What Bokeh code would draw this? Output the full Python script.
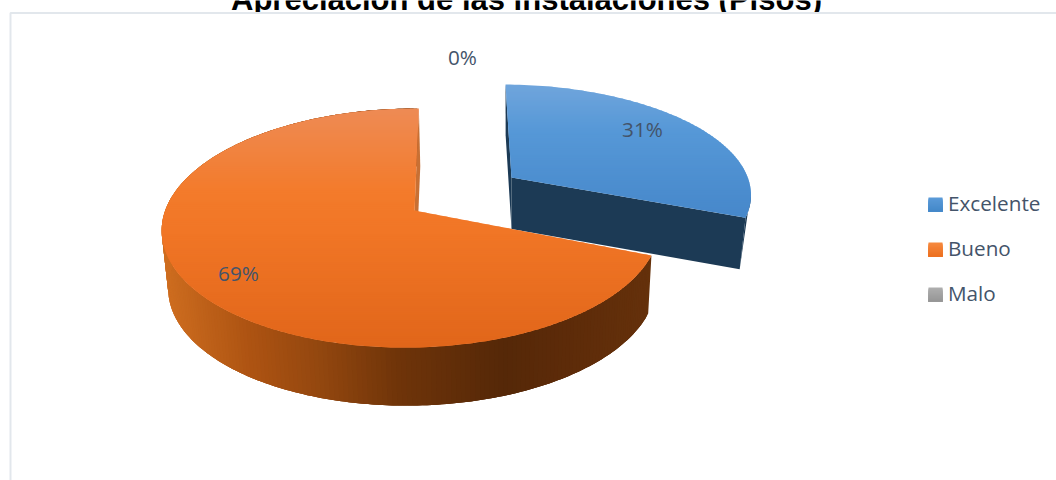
import numpy as np
from bokeh.core.properties import value
from bokeh.embed import file_html
from bokeh.models import Range1d
from bokeh.plotting import figure
from bokeh.resources import INLINE

# Chart content
title = "Apreciación de las instalaciones (Pisos)"
categories = ["Excelente", "Bueno", "Malo"]
percents = [31, 69, 0]

INK = "#44546a"
FONT = value("Open Sans")
LABEL_SIZE = "20.7px"
shares = np.array(percents, dtype=float) / sum(percents)
sweep_end = 360.0 * np.cumsum(shares)


class Wedge3D:
    """Perspective view of a pie wedge; angles run clockwise from twelve o'clock."""

    def __init__(self, ax, ay, a, b, p, q, s, depth, shrink, drift=0.0):
        self.ax, self.ay, self.a, self.b = ax, ay, a, b
        self.p, self.q, self.s = p, q, s
        self.depth, self.shrink, self.drift = depth, shrink, drift

    def top(self, deg):
        t = np.radians(np.asarray(deg, dtype=float))
        u, v = np.sin(t), np.cos(t)
        w = 1 + self.p * v + self.q * u
        return self.ax + (self.a * u + self.s * v) / w, self.ay - self.b * v / w

    def bottom(self, deg):
        x, y = self.top(deg)
        return self.ax + self.drift + (x - self.ax) * self.shrink, y + self.depth

    def apex_low(self):
        return self.ax + self.drift, self.ay + self.depth


def clip_half(pts, y_cut, keep_below):
    out = []
    for i, (x0, y0) in enumerate(pts):
        x1, y1 = pts[(i + 1) % len(pts)]
        in0 = (y0 >= y_cut) == keep_below
        in1 = (y1 >= y_cut) == keep_below
        if in0:
            out.append((x0, y0))
        if in0 != in1:
            f = (y_cut - y0) / (y1 - y0)
            out.append((x0 + f * (x1 - x0), y_cut))
    return out


def hex_mix(y, stops):
    ys, cols = zip(*stops)
    rgb = [np.interp(y, ys, [int(c[i:i + 2], 16) for c in cols]) for i in (1, 3, 5)]
    return "#%02x%02x%02x" % tuple(int(round(c)) for c in rgb)


def shaded_face(poly, stops, step=2.0):
    """Cut a polygon into horizontal bands that follow a vertical colour ramp."""
    ys = [pt[1] for pt in poly]
    xs_out, ys_out, cols = [], [], []
    for y0 in np.arange(min(ys), max(ys), step):
        band = clip_half(clip_half(poly, y0, True), y0 + step + 1, False)
        if len(band) >= 3:
            xs_out.append([pt[0] for pt in band])
            ys_out.append([pt[1] for pt in band])
            cols.append(hex_mix(y0 + step / 2, stops))
    return xs_out, ys_out, cols


p = figure(width=1056, height=480, output_backend="svg", toolbar_location=None,
           x_range=Range1d(0, 1056), y_range=Range1d(480, 0), min_border=0,
           outline_line_color=None, background_fill_color="white",
           border_fill_color="white")
p.axis.visible = False
p.grid.visible = False

# Title, running off the top edge of the page and ending at the frame
p.text([526], [8.5], text=[title], text_font=value("Liberation Sans"),
       text_font_style="bold", text_font_size="31px", text_color="#000000",
       text_align="center", text_baseline="alphabetic", y_offset=-9.5)
p.quad(left=0, right=1056, top=12, bottom=24, fill_color="white", line_color=None)

# Chart frame
p.line([10, 10, 1056], [480, 12.5, 12.5], line_color="#e2e7ec", line_width=2)

blue = Wedge3D(511, 177, 241, 105.7, 0.137, 0.02, -6.8, 51.5, 0.975)
orange = Wedge3D(414, 210, 246.1, 117, 0.1465, 0.0128, 5.0, 58, 0.98, drift=1.5)

# Blue wedge, pulled away from the pie
b_end = sweep_end[0]
thetas = np.linspace(0, b_end, 90)
lx, ly = blue.apex_low()
x0, y0 = blue.top(0)
x0l, y0l = blue.bottom(0)
xe, ye = blue.top(b_end)
xel, yel = blue.bottom(b_end)
p.patch([x0, x0l, lx, blue.ax], [y0, y0l, ly, blue.ay], fill_color="#1c3a55", line_color=None)
p.patch([blue.ax, lx, xel, xe], [blue.ay, ly, yel, ye], fill_color="#1c3a55", line_color=None)
rim = np.linspace(b_end - 14, b_end, 10)
rx, ry = blue.top(rim)
p.patch(list(rx) + [xel], list(ry) + [yel], fill_color="#1c3a55", line_color=None)
bx, by = blue.top(thetas)
blue_poly = [(blue.ax, blue.ay)] + list(zip(bx, by))
xs, ys, cols = shaded_face(blue_poly, [(84, "#70a5dc"), (130, "#5698d7"), (218, "#4687ca")])
p.patches(xs, ys, fill_color=cols, line_color=None)

# Orange wedge: outer wall first, shaded around the rim; strips overlap so no seams show
o_start, o_end = sweep_end[0], sweep_end[1]
wall_stops = [(160, "#cf6e20"), (250, "#ad5312"), (320, "#93470f"), (400, "#6f3409"),
              (505, "#552808"), (570, "#5d2b09"), (655, "#65310b")]
edges = np.arange(o_start, o_end + 0.01, 1.0)
tx, ty = orange.top(edges)
lo_x, lo_y = orange.bottom(edges)
wall_xs, wall_ys, wall_cols = [], [], []
for i in range(len(edges) - 3):
    idx = list(range(i, i + 4))
    wall_xs.append([tx[j] for j in idx] + [lo_x[j] for j in idx[::-1]])
    wall_ys.append([ty[j] for j in idx] + [lo_y[j] for j in idx[::-1]])
    wall_cols.append(hex_mix(tx[i], wall_stops))
p.patches(wall_xs, wall_ys, fill_color=wall_cols, line_color=None)

# Cut face that shows along the back edge
cx, cy = orange.top(o_end)
clx, cly = orange.bottom(o_end)
alx, aly = orange.apex_low()
p.patch([cx, clx, alx, orange.ax], [cy, cly, aly, orange.ay],
        fill_color="#c87034", line_color=None)

arc = np.linspace(o_start, o_end, 260)
ax_, ay_ = orange.top(arc)
orange_poly = [(orange.ax, orange.ay)] + list(zip(ax_, ay_))
xs, ys, cols = shaded_face(orange_poly, [(107, "#ee8b55"), (190, "#f37b2b"),
                                         (230, "#f17626"), (346, "#e1661a")])
p.patches(xs, ys, fill_color=cols, line_color=None)

# Percentage labels
label_x = [642, 238, 462]
label_y = [128, 272, 56]
p.text(label_x, label_y, text=[f"{v}%" for v in percents], text_font=FONT,
       text_font_size=LABEL_SIZE, text_color=INK, text_align="center", text_baseline="middle")

# Legend: each swatch row runs on under the next one so no pale seams appear
swatch_ramps = [("#5a9ad8", "#4488c9"), ("#f6893f", "#ec7020"), ("#aeaeae", "#969696")]
for i, (name, ramp) in enumerate(zip(categories, swatch_ramps)):
    top_y = 197 + 45 * i
    for row in range(14):
        p.quad(left=928, right=942, top=top_y + row, bottom=top_y + 14,
               fill_color=hex_mix(row, [(0, ramp[0]), (13, ramp[1])]), line_color=None)
    p.text([947.5], [top_y + 5], text=[name], text_font=FONT, text_font_size=LABEL_SIZE,
           text_color=INK, text_align="left", text_baseline="middle")

open("out.html", "w").write(file_html(p, INLINE))
